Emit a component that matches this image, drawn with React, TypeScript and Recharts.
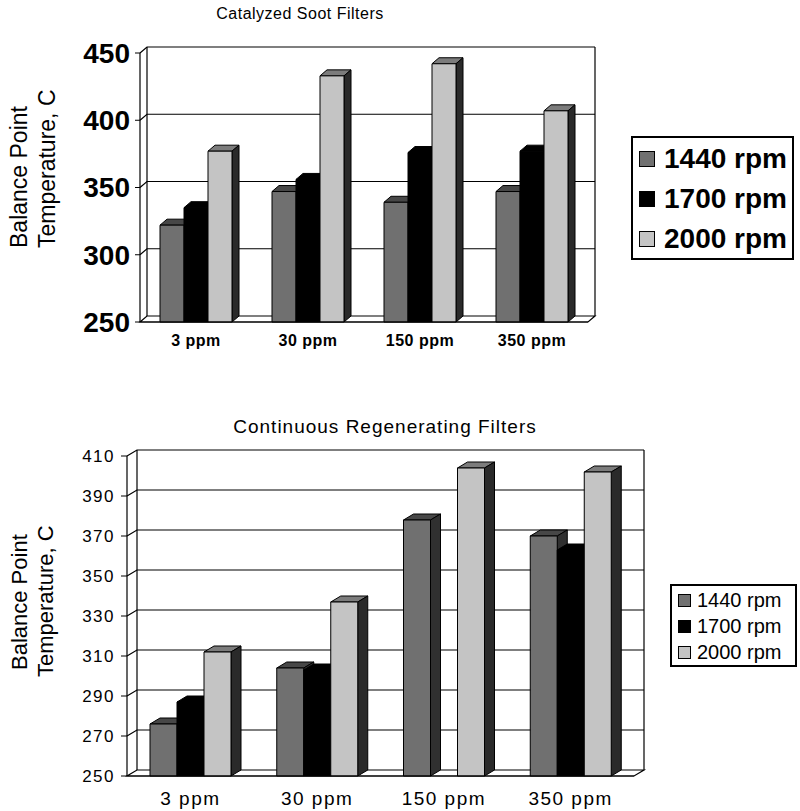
import React from 'react'
import { Bar, BarChart, CartesianGrid, Legend, XAxis, YAxis } from 'recharts'

const FONT = 'Arial, "Liberation Sans", sans-serif'

const PPM = ['3 ppm', '30 ppm', '150 ppm', '350 ppm']
const RPM = ['1440 rpm', '1700 rpm', '2000 rpm']

// Catalyzed soot filters (top)
const csf1440 = [322, 347, 339, 347]
const csf1700 = [335, 356, 376, 377]
const csf2000 = [377, 433, 442, 407]
const CSF_TICKS = [250, 300, 350, 400, 450]

// Continuous regenerating filters (bottom)
const crt1440 = [276, 304, 378, 370]
const crt1700 = [287, 303, null, 363]
const crt2000 = [312, 337, 404, 402]
const CRT_TICKS = [250, 270, 290, 310, 330, 350, 370, 390, 410]

const EDGE_TICKS = [0, 1, 2, 3, 4]

const FACES = [
  { front: '#707070', top: '#474747', side: '#303030' },
  { front: '#000000', top: '#000000', side: '#000000' },
  { front: '#c4c4c4', top: '#7c7c7c', side: '#2a2a2a' },
]

const toRows = (a: (number | null)[], b: (number | null)[], c: (number | null)[]) =>
  PPM.map((ppm, i) => ({ ppm, r1440: a[i], r1700: b[i], r2000: c[i] }))

const csfData = toRows(csf1440, csf1700, csf2000)
const crtData = toRows(crt1440, crt1700, crt2000)

/* 3D column: front face at value, top + side face pushed back by dx/dy */
function box3d(face: { front: string; top: string; side: string }, dx: number, dy: number) {
  return (p: any) => {
    const { x, y, width, height } = p
    if (!height || height <= 0 || p.value == null) return <g />
    const r = x + width
    const b = y + height
    return (
      <g stroke="#000" strokeWidth={1} strokeLinejoin="round">
        <polygon points={`${x},${y} ${x + dx},${y - dy} ${r + dx},${y - dy} ${r},${y}`} fill={face.top} />
        <polygon points={`${r},${y} ${r + dx},${y - dy} ${r + dx},${b - dy} ${r},${b}`} fill={face.side} />
        <rect x={x} y={y} width={width} height={height} fill={face.front} />
      </g>
    )
  }
}

/* gridlines on the back wall, floor slab at the bottom */
function wallLine(dx: number, dy: number) {
  return (p: any) => {
    const { x1, x2, y1, y, height, index } = p
    const bottom = y + height
    if (Math.abs(y1 - bottom) < 1) {
      return (
        <polygon
          key={`w${index}`}
          points={`${x1},${y1} ${x2},${y1} ${x2 + dx},${y1 - dy} ${x1 + dx},${y1 - dy}`}
          fill="#fff"
          stroke="#000"
          strokeWidth={1.2}
        />
      )
    }
    const isTop = Math.abs(y1 - y) < 1
    return (
      <g key={`w${index}`} stroke="#000" strokeWidth={1.2} fill="none">
        <polyline points={`${x1},${y1} ${x1 + dx},${y1 - dy} ${x2 + dx},${y1 - dy}`} />
        {isTop && <line x1={x1 + dx} y1={y1 - dy} x2={x1 + dx} y2={bottom - dy} />}
        {isTop && <line x1={x2 + dx} y1={y1 - dy} x2={x2 + dx} y2={bottom - dy} />}
      </g>
    )
  }
}

function legendBox(opts: { fontSize: number; bold: boolean; row: number; swatch: number; gap: number; padTop: number; width: number; height: number }) {
  return () => (
    <div
      style={{
        border: '2px solid #000',
        background: '#fff',
        width: opts.width,
        height: opts.height,
        boxSizing: 'border-box',
        paddingTop: opts.padTop,
        paddingLeft: 6,
        fontFamily: FONT,
        overflow: 'hidden',
      }}
    >
      {RPM.map((name, i) => (
        <div key={name} style={{ height: opts.row, display: 'flex', alignItems: 'center' }}>
          <span
            style={{
              display: 'inline-block',
              width: opts.swatch,
              height: opts.swatch,
              background: FACES[i].front,
              border: '1px solid #000',
              boxSizing: 'border-box',
              marginRight: opts.gap,
            }}
          />
          <span style={{ fontSize: opts.fontSize, fontWeight: opts.bold ? 700 : 400, color: '#000', lineHeight: 1 }}>
            {name}
          </span>
        </div>
      ))}
    </div>
  )
}

function yTitle(lines: { x: number; y: number }[], fontSize: number) {
  const words = ['Balance Point', 'Temperature, C']
  return () => (
    <g>
      {words.map((w, i) => (
        <text
          key={w}
          x={lines[i].x}
          y={lines[i].y}
          transform={`rotate(-90 ${lines[i].x} ${lines[i].y})`}
          textAnchor="start"
          fontFamily={FONT}
          fontSize={fontSize}
          fill="#000"
        >
          {w}
        </text>
      ))}
    </g>
  )
}

function CatalyzedChart() {
  const dx = 7
  const dy = 6
  return (
    <BarChart
      width={800}
      height={370}
      data={csfData}
      margin={{ top: 53, right: 212, left: 40, bottom: 18 }}
      barGap={0}
      barSize={24}
    >
      <CartesianGrid vertical={false} horizontal={wallLine(dx, dy)} />
      <XAxis
        xAxisId="edges"
        type="number"
        domain={[0, 4]}
        ticks={EDGE_TICKS}
        tick={false}
        axisLine={false}
        tickLine={{ stroke: '#000' }}
        tickSize={5}
        height={0}
      />
      <XAxis
        dataKey="ppm"
        height={30}
        axisLine={{ stroke: '#000', strokeWidth: 1.2 }}
        tickLine={false}
        tickSize={6}
        tickMargin={7}
        tick={{ fontSize: 16, fontWeight: 700, fill: '#000', fontFamily: FONT, letterSpacing: 0.5 }}
      />
      <YAxis
        width={100}
        domain={[250, 450]}
        ticks={CSF_TICKS}
        interval={0}
        axisLine={{ stroke: '#000', strokeWidth: 1.2 }}
        tickLine={{ stroke: '#000' }}
        tickSize={5}
        tickMargin={5}
        tick={{ fontSize: 28, fontWeight: 700, fill: '#000', fontFamily: FONT }}
        label={{ content: yTitle([{ x: 27, y: 248 }, { x: 55, y: 248 }], 23) }}
      />
      <Legend
        layout="vertical"
        align="center"
        verticalAlign="middle"
        wrapperStyle={{ position: 'absolute', left: 631, top: 136, width: 'auto' }}
        content={legendBox({ fontSize: 28, bold: true, row: 40, swatch: 16, gap: 9, padTop: 1, width: 163, height: 124 })}
      />
      {(['r1440', 'r1700', 'r2000'] as const).map((key, i) => (
        <Bar
          key={key}
          dataKey={key}
          name={RPM[i]}
          fill={FACES[i].front}
          shape={box3d(FACES[i], dx, dy)}
          isAnimationActive={false}
        />
      ))}
    </BarChart>
  )
}

function RegeneratingChart() {
  const dx = 10
  const dy = 6
  return (
    <BarChart
      width={800}
      height={411}
      data={crtData}
      margin={{ top: 56, right: 166, left: 27, bottom: 0 }}
      barGap={0}
      barSize={27}
    >
      <CartesianGrid vertical={false} horizontal={wallLine(dx, dy)} />
      <XAxis
        xAxisId="edges"
        type="number"
        domain={[0, 4]}
        ticks={EDGE_TICKS}
        tick={false}
        axisLine={false}
        tickLine={{ stroke: '#000' }}
        tickSize={5}
        height={0}
      />
      <XAxis
        dataKey="ppm"
        height={35}
        axisLine={{ stroke: '#000', strokeWidth: 1.2 }}
        tickLine={false}
        tickSize={6}
        tickMargin={10}
        tick={{ fontSize: 19, fill: '#000', fontFamily: FONT, letterSpacing: 1.5 }}
      />
      <YAxis
        width={100}
        domain={[250, 410]}
        ticks={CRT_TICKS}
        interval={0}
        axisLine={{ stroke: '#000', strokeWidth: 1.2 }}
        tickLine={{ stroke: '#000' }}
        tickSize={6}
        tickMargin={6}
        tick={{ fontSize: 17, fill: '#000', fontFamily: FONT, letterSpacing: 1.5 }}
        label={{ content: yTitle([{ x: 27, y: 270 }, { x: 53, y: 277 }], 22) }}
      />
      <Legend
        layout="vertical"
        align="center"
        verticalAlign="middle"
        wrapperStyle={{ position: 'absolute', left: 670, top: 184, width: 'auto' }}
        content={legendBox({ fontSize: 20, bold: false, row: 26, swatch: 13, gap: 6, padTop: 1, width: 127, height: 83 })}
      />
      {(['r1440', 'r1700', 'r2000'] as const).map((key, i) => (
        <Bar
          key={key}
          dataKey={key}
          name={RPM[i]}
          fill={FACES[i].front}
          shape={box3d(FACES[i], dx, dy)}
          isAnimationActive={false}
        />
      ))}
    </BarChart>
  )
}

export default function App() {
  return (
    <div
      style={{
        position: 'absolute',
        left: 0,
        top: 0,
        width: 800,
        height: 811,
        background: '#fff',
        fontFamily: FONT,
        overflow: 'hidden',
      }}
    >
      <div style={{ position: 'absolute', left: 0, top: 5, width: 600, textAlign: 'center', fontSize: 16, letterSpacing: 0.5 }}>
        Catalyzed Soot Filters
      </div>
      <div style={{ position: 'absolute', left: 0, top: 0 }}>
        <CatalyzedChart />
      </div>
      <div style={{ position: 'absolute', left: 0, top: 416, width: 770, textAlign: 'center', fontSize: 19, letterSpacing: 1 }}>
        Continuous Regenerating Filters
      </div>
      <div style={{ position: 'absolute', left: 0, top: 400 }}>
        <RegeneratingChart />
      </div>
    </div>
  )
}
